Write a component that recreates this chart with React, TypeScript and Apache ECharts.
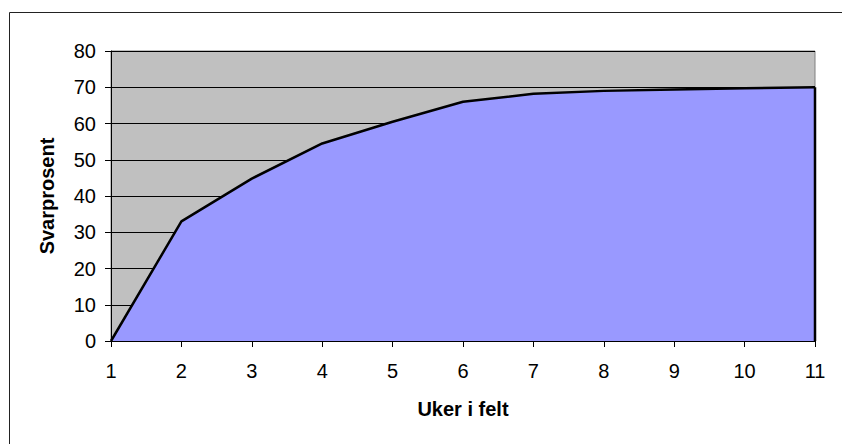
import React, { useEffect, useRef } from "react";
import * as echarts from "echarts";

const weeks = [1, 2, 3, 4, 5, 6, 7, 8, 9, 10, 11];
const responseRate = [0, 33, 44.8, 54.5, 60.5, 66, 68.2, 69, 69.4, 69.7, 70];
const yTicks = { min: 0, max: 80, interval: 10 };
const xTicks = { min: 1, max: 11, interval: 1 };
const xName = "Uker i felt";
const yName = "Svarprosent";

export default function App() {
  const ref = useRef<HTMLDivElement>(null);
  useEffect(() => {
    document.body.style.margin = "0";
    if (!ref.current) return;
    const chart = echarts.init(ref.current, null, { renderer: "svg" });
    const data = weeks.map((w, i) => [w, responseRate[i]]);
    const last = data[data.length - 1];
    const font = "'Liberation Sans', Arial, sans-serif";
    chart.setOption({
      animation: false,
      backgroundColor: "#ffffff",
      graphic: [
        {
          type: "rect",
          shape: { x: 9.5, y: 12.5, width: 900, height: 500 },
          style: { fill: "none", stroke: "#222", lineWidth: 1 },
          silent: true,
          z: -10,
        },
      ],
      grid: {
        left: 111,
        right: 27,
        top: 51,
        bottom: 103,
        show: true,
        backgroundColor: "#C0C0C0",
        borderColor: "#808080",
        borderWidth: 1,
      },
      xAxis: {
        type: "value",
        min: xTicks.min,
        max: xTicks.max,
        interval: xTicks.interval,
        name: xName,
        nameLocation: "middle",
        nameGap: 58,
        nameTextStyle: { fontFamily: font, fontSize: 20, fontWeight: "bold", color: "#000" },
        axisLine: { show: true, onZero: false, lineStyle: { color: "#000", width: 1 } },
        axisTick: { show: true, inside: false, length: 6, lineStyle: { color: "#000" } },
        axisLabel: { margin: 20, fontFamily: font, fontSize: 20, color: "#000" },
        splitLine: { show: false },
      },
      yAxis: {
        type: "value",
        min: yTicks.min,
        max: yTicks.max,
        interval: yTicks.interval,
        name: yName,
        nameLocation: "middle",
        nameGap: 54,
        nameTextStyle: { fontFamily: font, fontSize: 20, fontWeight: "bold", color: "#000" },
        axisLine: { show: true, lineStyle: { color: "#000", width: 1 } },
        axisTick: { show: true, inside: false, length: 6, lineStyle: { color: "#000" } },
        axisLabel: { margin: 15, fontFamily: font, fontSize: 20, color: "#000" },
        splitLine: { show: true, lineStyle: { color: "#000", width: 1 } },
      },
      series: [
        {
          type: "line",
          data,
          symbol: "none",
          lineStyle: { color: "#000", width: 2.5 },
          areaStyle: { color: "#9999FF", opacity: 1 },
          z: 3,
        },
        {
          type: "line",
          data: [last, [last[0], yTicks.min]],
          symbol: "none",
          lineStyle: { color: "#000", width: 2.5 },
          z: 4,
        },
      ],
    });
    return () => chart.dispose();
  }, []);
  return <div ref={ref} style={{ width: 842, height: 444 }} />;
}
